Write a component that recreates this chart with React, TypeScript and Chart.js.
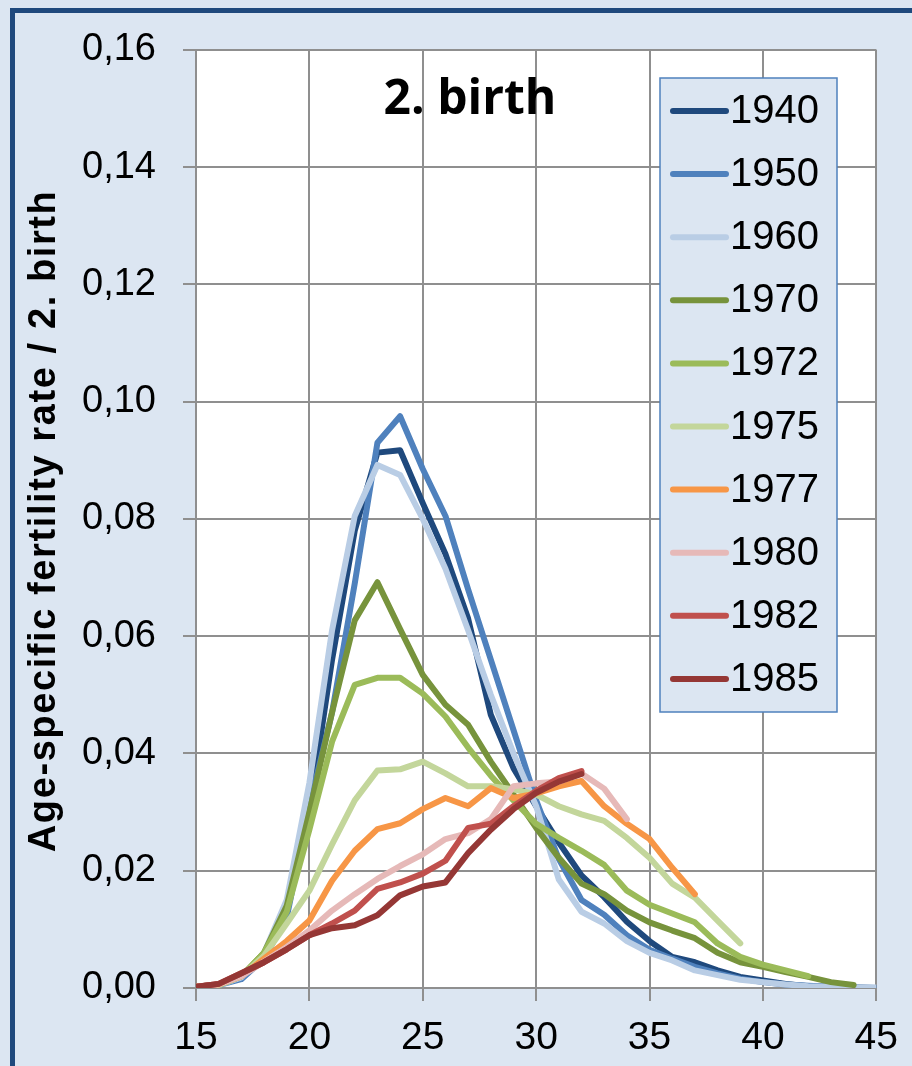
import React, { useEffect, useRef } from "react";
import { Chart, registerables } from "chart.js";

Chart.register(...registerables);

const ages = [15, 16, 17, 18, 19, 20, 21, 22, 23, 24, 25, 26, 27, 28, 29, 30, 31, 32, 33, 34, 35, 36, 37, 38, 39, 40, 41, 42, 43, 44, 45];

const cohorts = ["1940", "1950", "1960", "1970", "1972", "1975", "1977", "1980", "1982", "1985"];

const cohortColors = ["#1f497d", "#4f81bd", "#b9cde5", "#77933c", "#9bbb59", "#c3d69b", "#f79646", "#e6b9b8", "#c0504d", "#953735"];

// values by age, starting at 15
const rate1940 = [0.0002, 0.0006, 0.0018, 0.0055, 0.013, 0.030, 0.056, 0.078, 0.0913, 0.0917, 0.0827, 0.074, 0.063, 0.0466, 0.0375, 0.031, 0.0248, 0.0192, 0.0155, 0.0113, 0.008, 0.0053, 0.0044, 0.003, 0.0019, 0.0013, 0.0007, 0.0003, 0.0002, 0.0001, 0.0];
const rate1950 = [0.0002, 0.0005, 0.0015, 0.005, 0.012, 0.031, 0.047, 0.069, 0.093, 0.0975, 0.0885, 0.0805, 0.068, 0.056, 0.044, 0.032, 0.022, 0.015, 0.0125, 0.009, 0.0065, 0.005, 0.0036, 0.0025, 0.0016, 0.001, 0.0006, 0.0004, 0.0002, 0.0001, 0.0];
const rate1960 = [0.0002, 0.0005, 0.0018, 0.006, 0.015, 0.035, 0.061, 0.0805, 0.0892, 0.0875, 0.080, 0.0715, 0.061, 0.050, 0.040, 0.031, 0.0185, 0.013, 0.011, 0.008, 0.006, 0.0047, 0.003, 0.0022, 0.0014, 0.001, 0.0006, 0.0003, 0.0002, 0.0001, 0.0001];
const rate1970 = [0.0002, 0.0005, 0.002, 0.006, 0.014, 0.030, 0.047, 0.0627, 0.0692, 0.0612, 0.0534, 0.0483, 0.0449, 0.0386, 0.033, 0.0273, 0.0222, 0.0178, 0.016, 0.0132, 0.0112, 0.0098, 0.0085, 0.006, 0.0044, 0.0036, 0.0027, 0.0019, 0.001, 0.0005];
const rate1972 = [0.0002, 0.0005, 0.002, 0.006, 0.013, 0.027, 0.042, 0.0517, 0.0529, 0.0529, 0.0502, 0.0463, 0.041, 0.0362, 0.032, 0.028, 0.0256, 0.0234, 0.021, 0.0166, 0.0142, 0.0127, 0.0112, 0.0076, 0.0053, 0.004, 0.003, 0.002];
const rate1975 = [0.0002, 0.0005, 0.002, 0.0055, 0.011, 0.0166, 0.0245, 0.032, 0.0371, 0.0373, 0.0386, 0.0366, 0.0344, 0.0344, 0.0339, 0.033, 0.031, 0.0296, 0.0285, 0.0256, 0.0222, 0.0178, 0.0154, 0.0115, 0.0076];
const rate1977 = [0.0002, 0.0006, 0.002, 0.005, 0.008, 0.0115, 0.0183, 0.0234, 0.0271, 0.0281, 0.0305, 0.0324, 0.031, 0.0341, 0.0324, 0.0332, 0.0344, 0.0353, 0.031, 0.028, 0.0254, 0.0205, 0.016];
const rate1980 = [0.0002, 0.0006, 0.002, 0.0045, 0.007, 0.0098, 0.0132, 0.016, 0.0186, 0.0208, 0.0228, 0.0254, 0.0264, 0.0288, 0.0344, 0.0349, 0.0352, 0.0366, 0.034, 0.0288];
const rate1982 = [0.0002, 0.0007, 0.0025, 0.0044, 0.0066, 0.009, 0.011, 0.0132, 0.0169, 0.018, 0.0195, 0.0217, 0.0273, 0.028, 0.031, 0.0336, 0.0358, 0.037];
const rate1985 = [0.0002, 0.0007, 0.0025, 0.0044, 0.0066, 0.009, 0.0102, 0.0107, 0.0124, 0.0158, 0.0173, 0.018, 0.023, 0.027, 0.0305, 0.0333, 0.0352, 0.0365];

const seriesValues = [rate1940, rate1950, rate1960, rate1970, rate1972, rate1975, rate1977, rate1980, rate1982, rate1985];

const yTicks = [0, 0.02, 0.04, 0.06, 0.08, 0.1, 0.12, 0.14, 0.16];
const xTicks = [15, 20, 25, 30, 35, 40, 45];

const chartTitle = "2. birth";
const yTitle = "Age-specific fertility rate / 2. birth";

const GRID = "#8f8f8f";
const BG = "#dce6f2";

const plotBgPlugin = {
  id: "plotBg",
  beforeDraw(chart: any) {
    const ctx = chart.ctx;
    const ca = chart.chartArea;
    ctx.save();
    ctx.fillStyle = "#ffffff";
    ctx.fillRect(ca.left, ca.top, ca.right - ca.left, ca.bottom - ca.top);
    ctx.restore();
  },
};

const overlayPlugin = {
  id: "overlay",
  afterDatasetsDraw(chart: any) {
    const ctx = chart.ctx;
    const ca = chart.chartArea;
    ctx.save();
    // title
    ctx.fillStyle = "#000";
    ctx.font = "bold 48px 'Open Sans', 'Liberation Sans', sans-serif";
    ctx.textAlign = "center";
    ctx.textBaseline = "middle";
    ctx.fillText(chartTitle, ca.left + 274, 100);

    // y axis title
    ctx.save();
    ctx.translate(45, (ca.top + ca.bottom) / 2 + 2);
    ctx.rotate(-Math.PI / 2);
    ctx.font = "bold 38px 'Liberation Sans', Arial, sans-serif";
    (ctx as any).letterSpacing = "1.6px";
    ctx.textAlign = "center";
    ctx.textBaseline = "middle";
    ctx.fillStyle = "#000";
    ctx.fillText(yTitle, 0, 0);
    ctx.restore();

    // legend box
    const bx = ca.left + 464;
    const by = 78;
    const bw = 177;
    const bh = 634;
    ctx.fillStyle = BG;
    ctx.fillRect(bx, by, bw, bh);
    ctx.strokeStyle = "#4f81bd";
    ctx.lineWidth = 1.5;
    ctx.strokeRect(bx, by, bw, bh);
    const rowH = 63.1;
    ctx.font = "40px 'Liberation Sans', Arial, sans-serif";
    ctx.textAlign = "left";
    ctx.textBaseline = "middle";
    chart.data.datasets.forEach((ds: any, i: number) => {
      const cy = by + 33 + i * rowH;
      ctx.strokeStyle = ds.borderColor;
      ctx.lineWidth = 6;
      ctx.lineCap = "round";
      ctx.beginPath();
      ctx.moveTo(bx + 13, cy);
      ctx.lineTo(bx + 66, cy);
      ctx.stroke();
      ctx.fillStyle = "#000";
      ctx.fillText(ds.label, bx + 70, cy + 1);
    });
    ctx.restore();
  },
};

export default function App() {
  const canvasRef = useRef<HTMLCanvasElement | null>(null);

  useEffect(() => {
    document.body.style.margin = "0";
    const canvas = canvasRef.current;
    if (!canvas) return;
    const datasets = seriesValues.map((vals, i) => ({
      label: cohorts[i],
      data: vals.map((v, j) => ({ x: ages[j], y: v })),
      borderColor: cohortColors[i],
      backgroundColor: cohortColors[i],
      borderWidth: 6,
      pointRadius: 0,
      tension: 0,
      fill: false,
      borderJoinStyle: "round" as const,
      borderCapStyle: "round" as const,
      order: -i,
    }));
    const chart = new Chart(canvas, {
      type: "line",
      data: { datasets },
      options: {
        animation: false,
        responsive: false,
        maintainAspectRatio: false,
        layout: { padding: { left: 0, top: 43, right: 32, bottom: 0 } },
        plugins: {
          legend: { display: false },
          tooltip: { enabled: false },
          title: { display: false },
        },
        scales: {
          x: {
            type: "linear",
            min: 15,
            max: 45,
            afterFit: (scale: any) => {
              scale.height = 78;
            },
            afterBuildTicks: (scale: any) => {
              scale.ticks = xTicks.map((v) => ({ value: v }));
            },
            ticks: {
              color: "#000",
              font: { size: 39, family: "'Liberation Sans', Arial, sans-serif" },
              padding: 14,
              maxRotation: 0,
            },
            grid: { color: GRID, lineWidth: 2, tickLength: 13, tickColor: GRID },
            border: { color: GRID, width: 2 },
          },
          y: {
            type: "linear",
            min: 0,
            max: 0.16,
            afterFit: (scale: any) => {
              scale.width = 196;
            },
            afterBuildTicks: (scale: any) => {
              scale.ticks = yTicks.map((v) => ({ value: v }));
            },
            ticks: {
              color: "#000",
              font: { size: 38, family: "'Liberation Sans', Arial, sans-serif" },
              padding: 27,
              callback: (v: any) => Number(v).toFixed(2).replace(".", ","),
            },
            grid: { color: GRID, lineWidth: 2, tickLength: 13, tickColor: GRID },
            border: { color: GRID, width: 2 },
          },
        },
      },
      plugins: [plotBgPlugin, overlayPlugin],
    });
    return () => chart.destroy();
  }, []);

  return (
    <div style={{ position: "absolute", left: 0, top: 0, width: 912, height: 1066, background: BG, overflow: "hidden" }}>
      <div style={{ position: "absolute", left: 10, top: 8, width: 1000, height: 1200, border: "5px solid #1f497d" }} />
      <canvas ref={canvasRef} width={912} height={1066} style={{ position: "absolute", left: 0, top: 0, width: 912, height: 1066 }} />
    </div>
  );
}
